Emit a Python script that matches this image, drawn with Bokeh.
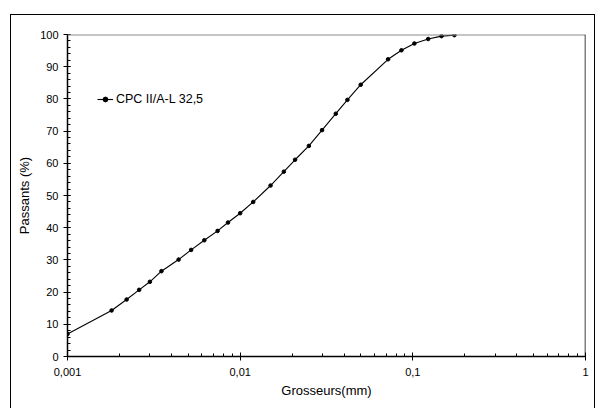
from bokeh.plotting import figure
from bokeh.models import (ColumnDataSource, Range1d, FixedTicker, SingleIntervalTicker,
                          CustomJSTickFormatter, Legend, LegendItem, Span, InlineStyleSheet)
from bokeh.embed import file_html
from bokeh.resources import INLINE

# Data
grain_size_mm = [0.001, 0.0018, 0.0022, 0.0026, 0.0030, 0.0035, 0.0044, 0.0052,
                 0.0062, 0.0074, 0.0085, 0.0100, 0.0119, 0.0150, 0.0179, 0.0208,
                 0.0250, 0.0298, 0.0358, 0.0418, 0.0499, 0.0719, 0.0859, 0.1021,
                 0.1227, 0.1466, 0.1741]
passing_pct = [7.0, 14.3, 17.7, 20.7, 23.2, 26.5, 30.1, 33.1,
               36.1, 39.0, 41.6, 44.5, 48.0, 53.1, 57.4, 61.1,
               65.4, 70.3, 75.4, 79.7, 84.4, 92.3, 95.1, 97.2,
               98.6, 99.5, 99.8]
series_name = "CPC II/A-L 32,5"
x_ticks = [0.001, 0.01, 0.1, 1]
x_label = "Grosseurs(mm)"
y_label = "Passants (%)"

FONT = "Liberation Sans"

src = ColumnDataSource(dict(x=grain_size_mm, y=passing_pct))

border_css = InlineStyleSheet(css="""
:host { position: relative; }
:host::after {
  content: "";
  position: absolute;
  left: 10px; top: 14px; width: 585px; height: 410px;
  border: 1px solid black;
  box-sizing: border-box;
  pointer-events: none;
}
""")

p = figure(width=596, height=408, x_axis_type="log",
           x_range=Range1d(0.001, 1), y_range=Range1d(0, 100),
           output_backend="svg", toolbar_location=None,
           min_border_left=67, min_border_right=11, min_border_top=34, min_border_bottom=52,
           stylesheets=[border_css])
p.grid.visible = False
p.outline_line_color = None
p.background_fill_color = "white"
p.border_fill_color = "white"

ln = p.line("x", "y", source=src, line_color="black", line_width=1.1)
sc = p.scatter("x", "y", source=src, size=3.6, marker="circle",
               fill_color="black", line_color="black")

# x axis
xa = p.xaxis[0]
minor = [k * t for t in x_ticks[:-1] for k in range(2, 10)]
xa.ticker = FixedTicker(ticks=x_ticks, minor_ticks=minor)
xa.formatter = CustomJSTickFormatter(code="return String(tick).replace('.', ',');")
xa.axis_label = x_label
xa.major_tick_in = 4
xa.major_tick_out = 4
xa.minor_tick_in = 3
xa.minor_tick_out = 0
xa.major_label_standoff = 7
xa.axis_label_standoff = 4

ya = p.yaxis[0]
ya.ticker = SingleIntervalTicker(interval=10, num_minor_ticks=5)
ya.axis_label = y_label
ya.major_tick_in = 3
ya.major_tick_out = 4
ya.minor_tick_in = 3
ya.minor_tick_out = 0
ya.major_label_standoff = 5
ya.axis_label_standoff = 5

for ax in (xa, ya):
    ax.axis_line_color = "black"
    ax.axis_line_width = 1.5
    ax.major_tick_line_color = "black"
    ax.minor_tick_line_color = "black"
    ax.major_label_text_font = FONT
    ax.major_label_text_font_size = "11px"
    ax.major_label_text_color = "black"
    ax.axis_label_text_font = FONT
    ax.axis_label_text_font_size = "13px"
    ax.axis_label_text_font_style = "normal"
    ax.axis_label_text_color = "black"

# frame top (grey) and right (black)
p.add_layout(Span(location=100, dimension="width", line_color="#8c8c8c", line_width=2))
p.add_layout(Span(location=1, dimension="height", line_color="black", line_width=1.5))

legend = Legend(items=[LegendItem(label=series_name, renderers=[ln, sc])],
                location=(30, 250), background_fill_alpha=0, border_line_color=None,
                padding=0, margin=0, spacing=0, glyph_width=16, glyph_height=12,
                label_height=12, label_standoff=3, label_text_font=FONT,
                label_text_font_size="12.5px", label_text_color="black")
p.add_layout(legend)

open("out.html", "w").write(file_html(p, INLINE))
